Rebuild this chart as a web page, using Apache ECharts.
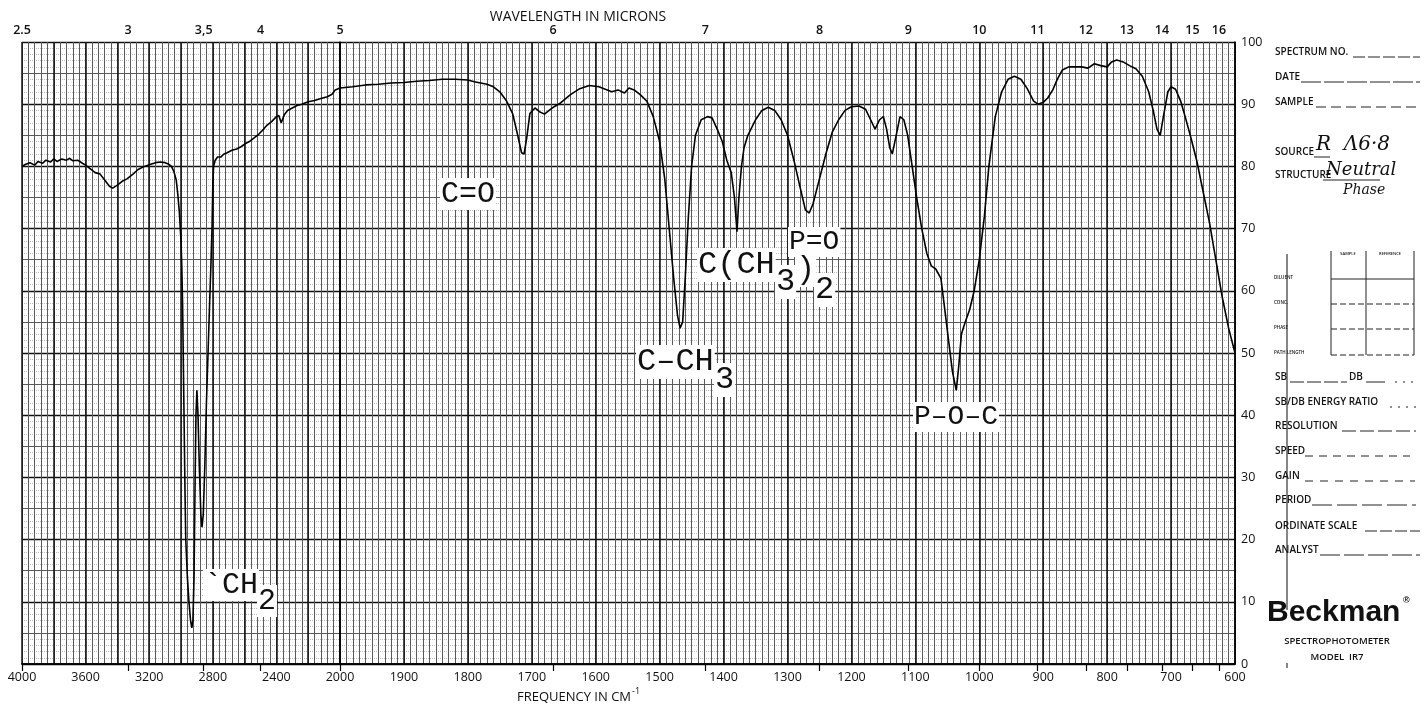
<!DOCTYPE html>
<html><head><meta charset="utf-8">
<script src="https://cdn.jsdelivr.net/npm/echarts@6/dist/echarts.min.js"></script>
<style>html,body{margin:0;padding:0;background:#fff}#c{width:1426px;height:704px}</style>
</head><body><div id="c"></div>
<script>
// ---------- DATA ----------
// 4000 -> 2000 cm-1 section
const leftWavenumbers = [4000,3980,3950,3920,3900,3870,3850,3820,3800,3780,3750,3720,3700,3680,3650,3620,3600,3570,3540,3510,3480,3450,3430,3400,3370,3340,3300,3270,3230,3195,3160,3130,3100,3080,3060,3045,3030,3020,3010,3000,2995,2990,2985,2980,2975,2970,2960,2950,2940,2932,2925,2918,2912,2906,2900,2893,2885,2875,2868,2860,2850,2840,2830,2820,2812,2805,2800,2795,2785,2770,2750,2730,2710,2680,2650,2620,2600,2570,2540,2510,2480,2460,2430,2400,2385,2370,2362,2350,2330,2300,2270,2240,2200,2160,2120,2080,2050,2030,2000];
const leftTransmittance = [80,80.3,80.6,80.2,80.8,80.5,81,80.7,81.2,80.8,81.2,81,81.3,80.9,81,80.5,80.2,79.6,79,78.8,77.8,76.8,76.5,77,77.6,78,78.8,79.5,80,80.3,80.6,80.7,80.6,80.4,80,79.2,77.8,75.5,72.5,68,64,58,48,38,28,20,14,10,7,5.8,7,14,28,40,44,40,32,24,22,24,32,42,50,58,64,70,77,80,81,81.5,81.5,82,82.2,82.6,82.8,83.2,83.6,84,84.6,85.2,86,86.6,87.2,88,88.2,87,86.8,88.3,89,89.4,89.8,90,90.4,90.6,90.9,91.2,91.6,92.3,92.6];
// 2000 -> 600 cm-1 section
const rightWavenumbers = [2000,1980,1960,1940,1920,1900,1880,1860,1840,1820,1800,1790,1780,1770,1760,1750,1740,1730,1722,1716,1712,1708,1703,1695,1688,1680,1673,1665,1655,1640,1625,1610,1595,1585,1575,1565,1555,1548,1540,1530,1520,1510,1500,1492,1485,1478,1472,1468,1464,1460,1455,1450,1444,1435,1425,1418,1410,1402,1395,1388,1383,1379,1376,1372,1368,1362,1350,1340,1330,1320,1310,1300,1290,1280,1272,1266,1260,1250,1240,1230,1220,1210,1200,1188,1178,1170,1163,1156,1150,1145,1140,1136,1130,1124,1118,1112,1105,1098,1090,1082,1075,1068,1060,1054,1048,1042,1036,1032,1028,1022,1015,1008,1000,992,985,975,965,955,945,935,925,915,908,900,893,885,878,870,860,850,840,830,820,810,800,793,785,775,765,755,745,735,728,722,717,712,705,700,693,685,678,670,660,650,640,630,620,610,600];
const rightTransmittance = [92.6,92.8,93.1,93.2,93.4,93.5,93.7,93.8,94,94,93.9,93.6,93.4,93.2,92.8,92,90.6,88.5,85,82.2,82,84.5,88.5,89.4,88.8,88.4,89,89.6,90.2,91.5,92.5,93,92.8,92.4,92,92.3,91.8,92.6,92.3,91.5,90.5,88,84,78,70,62,56,54,55,62,72,80,85,87.5,88,87.8,86,84,81,79,75,69.5,75,80,83,85,87.5,89,89.5,89,87.5,85,81,76.5,73,72.5,74,78,82,85.5,87.5,89,89.6,89.7,89.2,87.5,86,87.5,88,86,83,82,85,88,87.5,85,80,75,70,66,64,63.5,62,57,52,47,44,48,53,55,57,60,65,72,80,88,92,94,94.5,94,92.5,90.5,90,90.3,91,92.3,94,95.5,96,96,96,95.8,96.5,96.2,96,96.8,97.1,96.8,96.2,95.7,94.5,92,89,86,85,88,92,92.8,92.4,90.5,88,85,81,76,71,65,59,54,50];
// tick labels
const leftFreqTicks = [4000,3600,3200,2800,2400];
const rightFreqTicks = [2000,1900,1800,1700,1600,1500,1400,1300,1200,1100,1000,900,800,700,600];
const leftMicronTicks = [2.5,3,3.5,4,5];
const leftMicronLabels = ['2.5','3','3,5','4','5'];
const rightMicronTicks = [6,7,8,9,10,11,12,13,14,15,16];
const rightMicronLabels = ['6','7','8','9','10','11','12','13','14','15','16'];
const transmittanceTicks = [0,10,20,30,40,50,60,70,80,90,100];

// ---------- CHART ----------
const FONT = '"Open Sans", "DejaVu Sans", sans-serif';
const MONO = '"Liberation Mono", "DejaVu Sans Mono", monospace';
const chart = echarts.init(document.getElementById('c'), null, {renderer: 'canvas'});

function pairs(xs, ys) { return xs.map((x, i) => [x, ys[i]]); }
function plain(v) { return String(Math.round(v)); }
function micronFormatter(ticks, labels) {
  return function (v) {
    for (let i = 0; i < ticks.length; i++) if (Math.abs(10000 / ticks[i] - v) < 0.5) return labels[i];
    return '';
  };
}
function gridX(gi, min, max, interval, color, width, extra) {
  return Object.assign({
    type: 'value', gridIndex: gi, min: min, max: max, inverse: true, interval: interval,
    axisLine: {show: false}, axisTick: {show: false}, axisLabel: {show: false},
    splitLine: {show: true, lineStyle: {color: color, width: width}}
  }, extra || {});
}
function gridY(gi, interval, style, extra) {
  return Object.assign({
    type: 'value', gridIndex: gi, min: 0, max: 100, interval: interval,
    axisLine: {show: false}, axisTick: {show: false}, axisLabel: {show: false},
    splitLine: {show: true, lineStyle: style}
  }, extra || {});
}
const freqLabel = {show: true, color: '#111', fontFamily: FONT, fontSize: 12.5, margin: 7, formatter: plain};
const micronLabel = {show: true, color: '#111', fontFamily: FONT, fontSize: 12.5, fontWeight: 600, margin: 5};

const xAxis = [
  gridX(0, 2000, 4000, 40, '#5a5a5a', 1),
  gridX(0, 2000, 4000, 200, '#111', 1.5, {
    position: 'bottom',
    axisLine: {show: true, lineStyle: {color: '#000', width: 1.5}},
    axisLabel: Object.assign({customValues: leftFreqTicks}, freqLabel)
  }),
  gridX(0, 2000, 4000, 200, '#000', 0, {
    position: 'top', splitLine: {show: false},
    axisLine: {show: true, lineStyle: {color: '#000', width: 1.5}},
    axisTick: {show: true, inside: true, length: 7, customValues: leftMicronTicks.map(m => 10000 / m), lineStyle: {color: '#000', width: 1.2}},
    axisLabel: Object.assign({customValues: leftMicronTicks.map(m => 10000 / m), formatter: micronFormatter(leftMicronTicks, leftMicronLabels)}, micronLabel)
  }),
  gridX(1, 600, 2000, 10, '#5a5a5a', 1),
  gridX(1, 600, 2000, 100, '#111', 1.5, {
    position: 'bottom',
    axisLine: {show: true, lineStyle: {color: '#000', width: 1.5}},
    axisLabel: Object.assign({customValues: rightFreqTicks}, freqLabel)
  }),
  gridX(1, 600, 2000, 100, '#000', 0, {
    position: 'top', splitLine: {show: false},
    axisLine: {show: true, lineStyle: {color: '#000', width: 1.5}},
    axisTick: {show: true, inside: true, length: 7, customValues: rightMicronTicks.map(m => 10000 / m), lineStyle: {color: '#000', width: 1.2}},
    axisLabel: Object.assign({customValues: rightMicronTicks.map(m => 10000 / m), formatter: micronFormatter(rightMicronTicks, rightMicronLabels)}, micronLabel)
  })
];
const yAxis = [
  gridY(0, 1, {color: '#bdbdbd', width: 1, type: 'dotted'}),
  gridY(0, 5, {color: '#5a5a5a', width: 1}),
  gridY(0, 10, {color: '#111', width: 1.4}, {axisLine: {show: true, lineStyle: {color: '#000', width: 1.5}}}),
  gridY(1, 1, {color: '#bdbdbd', width: 1, type: 'dotted'}),
  gridY(1, 5, {color: '#5a5a5a', width: 1}),
  gridY(1, 10, {color: '#111', width: 1.4}, {
    position: 'right',
    axisLine: {show: true, lineStyle: {color: '#000', width: 1.5}},
    axisLabel: {show: true, customValues: transmittanceTicks, color: '#111', fontFamily: FONT, fontSize: 12.5, margin: 6, formatter: plain}
  })
];

// ---------- annotations & form ----------
function t(x, y, text, size, opts) {
  return {type: 'text', x: x, y: y, z: 50, style: Object.assign({text: text, fill: '#111', font: size + 'px ' + FONT, textVerticalAlign: 'middle'}, opts || {})};
}
function mono(x, y, text, size) {
  return {type: 'text', x: x, y: y, z: 60, style: {text: text, fill: '#111', font: size + 'px ' + MONO, textVerticalAlign: 'middle', backgroundColor: '#fff', padding: [1, 1, 1, 1]}};
}
function ln(x1, y1, x2, y2, w, dash) {
  return {type: 'line', z: 50, shape: {x1: x1, y1: y1, x2: x2, y2: y2}, style: {stroke: '#222', lineWidth: w || 1, lineDash: dash || null}};
}
const formFont = '600 10px ' + FONT;
function fl(x, y, text) { return t(x, y, text, 10, {font: formFont}); }

const graphic = [
  t(578, 17, 'WAVELENGTH IN MICRONS', 14, {textAlign: 'center', font: '500 14px ' + FONT}),
  t(574, 697, 'FREQUENCY IN CM', 13, {textAlign: 'center', font: '500 13px ' + FONT}),
  t(632, 691, '-1', 9, {font: '500 9px ' + FONT}),
  // spectrum annotations (typewritten)
  mono(440, 194, 'C=O', 30),
  mono(788, 242, 'P=O', 28),
  mono(697, 265, 'C(CH', 32), mono(775, 282, '3', 32), mono(795, 270, ')', 32), mono(814, 290, '2', 32),
  mono(636, 362, 'C\u2013CH', 32), mono(714, 380, '3', 32),
  mono(913, 417, 'P\u2013O\u2013C', 28),
  mono(203, 585, '`CH', 30), mono(257, 601, '2', 30),
  // form
  fl(1275, 52, 'SPECTRUM NO.'), ln(1353, 57, 1420, 57, 1, [12, 3]),
  fl(1275, 77, 'DATE'), ln(1301, 82, 1420, 82, 1, [20, 3]),
  fl(1275, 102, 'SAMPLE'), ln(1316, 107, 1420, 107, 1, [10, 5]),
  fl(1275, 152, 'SOURCE'), ln(1314, 157, 1330, 157, 1),
  t(1316, 145, 'R  \u039B6\u00B78', 20, {font: 'italic 20px "DejaVu Serif", serif'}),
  fl(1275, 175, 'STRUCTURE'), ln(1323, 180, 1380, 180, 1),
  t(1326, 170, 'Neutral', 18, {font: 'italic 18px "DejaVu Serif", serif'}),
  t(1343, 190, 'Phase', 14, {font: 'italic 14px "DejaVu Serif", serif'}),
  // table
  ln(1331, 251, 1331, 355), ln(1366, 251, 1366, 355), ln(1414, 251, 1414, 355),
  ln(1331, 279, 1414, 279), ln(1331, 304, 1414, 304, 1, [6, 3]), ln(1331, 329, 1414, 329, 1, [6, 3]), ln(1331, 355, 1414, 355, 1, [6, 3]),
  t(1348, 254, 'SAMPLE', 4, {font: '600 4px ' + FONT, textAlign: 'center'}),
  t(1390, 254, 'REFERENCE', 4, {font: '600 4px ' + FONT, textAlign: 'center'}),
  t(1274, 278, 'DILUENT', 4.5, {font: '600 4.5px ' + FONT}),
  t(1274, 303, 'CONC.', 4.5, {font: '600 4.5px ' + FONT}),
  t(1274, 328, 'PHASE', 4.5, {font: '600 4.5px ' + FONT}),
  t(1274, 353, 'PATH LENGTH', 4.5, {font: '600 4.5px ' + FONT}),
  fl(1275, 377, 'SB'), ln(1290, 382, 1347, 382, 1, [14, 3]), fl(1349, 377, 'DB'), ln(1366, 382, 1385, 382, 1), ln(1395, 382, 1415, 382, 1, [2, 6]),
  fl(1275, 402, 'SB/DB ENERGY RATIO'), ln(1390, 407, 1416, 407, 1, [2, 6]),
  fl(1275, 426, 'RESOLUTION'), ln(1342, 431, 1416, 431, 1, [14, 4]),
  fl(1275, 451, 'SPEED'), ln(1305, 456, 1410, 456, 1, [8, 6]),
  fl(1275, 476, 'GAIN'), ln(1305, 481, 1415, 481, 1, [8, 7]),
  fl(1275, 500, 'PERIOD'), ln(1312, 505, 1416, 505, 1, [20, 5]),
  fl(1275, 526, 'ORDINATE SCALE'), ln(1365, 531, 1420, 531, 1, [12, 3]),
  fl(1275, 550, 'ANALYST'), ln(1320, 555, 1420, 555, 1, [20, 4]),
  ln(1287, 254, 1287, 610, 1.1),
  ln(1287, 663, 1287, 668, 1.1),
  t(1267, 613, 'Beckman', 30, {font: 'bold 30px "Liberation Sans", Arial, sans-serif'}),
  t(1403, 601, '\u00AE', 9, {font: 'bold 9px "Liberation Sans", sans-serif'}),
  t(1337, 641, 'SPECTROPHOTOMETER', 9.5, {font: '600 9.5px ' + FONT, textAlign: 'center'}),
  t(1337, 657, 'MODEL  IR7', 9.5, {font: '600 9.5px ' + FONT, textAlign: 'center'})
];

chart.setOption({
  animation: false,
  backgroundColor: '#fff',
  grid: [
    {left: 22, top: 42, width: 318, height: 622, containLabel: false},
    {left: 340, top: 42, width: 895, height: 622, containLabel: false}
  ],
  xAxis: xAxis,
  yAxis: yAxis,
  series: [
    {type: 'line', xAxisIndex: 1, yAxisIndex: 2, data: pairs(leftWavenumbers, leftTransmittance), showSymbol: false, z: 20,
     lineStyle: {color: '#000', width: 1.6}},
    {type: 'line', xAxisIndex: 4, yAxisIndex: 5, data: pairs(rightWavenumbers, rightTransmittance), showSymbol: false, z: 20,
     lineStyle: {color: '#000', width: 1.6}}
  ],
  graphic: graphic
});
</script></body></html>
